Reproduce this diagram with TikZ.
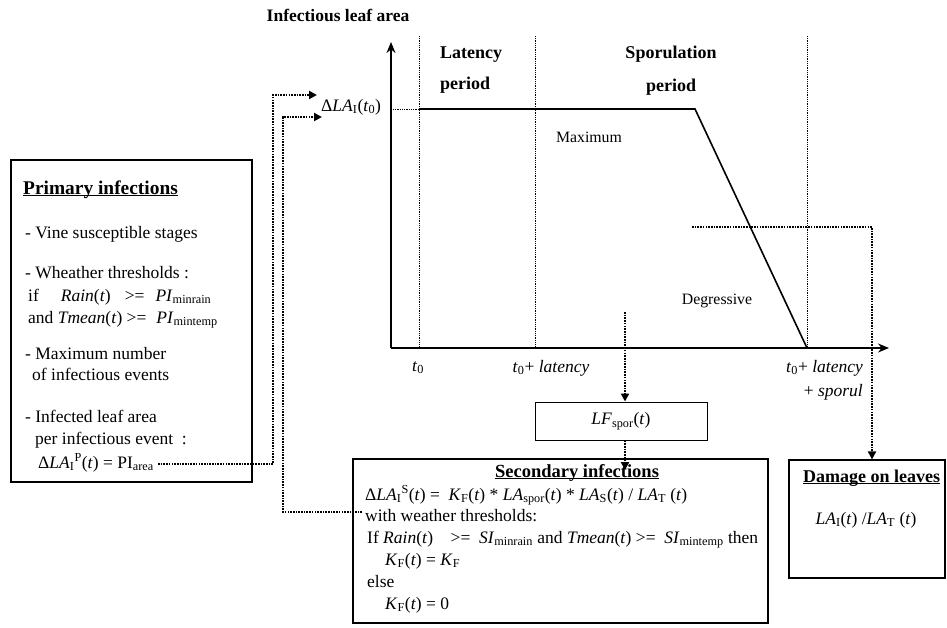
\documentclass[tikz,border=0pt]{standalone}
\usepackage{fontspec}
\setmainfont{Liberation Serif}
\usetikzlibrary{arrows.meta}
\newcommand{\sbs}[1]{\textsubscript{#1}}
\newcommand{\sps}[1]{\textsuperscript{#1}}
\newcommand{\ita}[1]{\textit{#1}}
\newcommand{\myul}[1]{\setbox0\hbox{#1}\rlap{\rule[-2.2pt]{\wd0}{1.1pt}}\box0}
\begin{document}
\begin{tikzpicture}[x=1pt,y=-1pt,
  txt/.style={inner sep=0pt, anchor=base west, font=\fontsize{17.5}{20}\selectfont},
  ctxt/.style={inner sep=0pt, anchor=base, font=\fontsize{17.5}{20}\selectfont},
  btitle/.style={inner sep=0pt, font=\bfseries\fontsize{18.5}{21}\selectfont},
  ctitle/.style={inner sep=0pt, font=\bfseries\fontsize{18}{21}\selectfont},
  small/.style={inner sep=0pt, anchor=base, font=\fontsize{15.8}{18}\selectfont},
  boxnode/.style={draw, line width=1.2pt, inner sep=0pt},
  thickdot/.style={line width=2.4pt, dash pattern=on 1.6pt off 1.1pt},
  thindot/.style={line width=0.6pt, dash pattern=on 0.9pt off 0.9pt},
  tip/.style={-{Triangle[length=8pt,width=8pt]}},
  axis/.style={line width=1.6pt, -{Stealth[length=11pt,width=9pt]}},
  curve/.style={line width=1.6pt, line join=miter}]
\useasboundingbox (0,0) rectangle (947,627);

% chart
\coordinate (o) at (391,348);
\coordinate (ytop) at (391,42);
\coordinate (xend) at (889,348);
\foreach \n/\x in {va/419,vb/535,vc/807}{
  \coordinate (\n top) at (\x,36);
  \coordinate (\n bot) at (\x,348);
  \draw[thindot] (\n top) -- (\n bot);
}
\coordinate (lev0) at (393,109);
\coordinate (lev1) at (419,109);
\coordinate (lev2) at (695,109);
\draw[thindot] (lev0) -- (lev1);
\draw[curve] (lev1) -- (lev2) -- (vcbot);
\draw[axis] (o) -- (ytop);
\draw[axis] (o) -- (xend);

\node[inner sep=0pt, font=\bfseries\fontsize{17.5}{20}\selectfont, anchor=base] (ttl) at (338,21) {Infectious leaf area};
\node[ctitle, anchor=base west] (lat1) at (440,58) {Latency};
\node[ctitle, anchor=base west] (lat2) at (440,89) {period};
\node[ctitle, anchor=base] (spo1) at (671,58) {Sporulation};
\node[ctitle, anchor=base] (spo2) at (671,91) {period};
\node[small] (maxl) at (589,142) {Maximum};
\node[small] (degl) at (717,304) {Degressive};
\node[ctxt] (t0l) at (418,371) {\ita{t}\sbs{0}};
\node[ctxt] (t1l) at (551,372) {\ita{t}\sbs{0}+ \ita{latency}};
\node[txt, anchor=base east] (t2l) at (863,372) {\ita{t}\sbs{0}+ \ita{latency}};
\node[txt, anchor=base east] (t3l) at (863,396) {+ \ita{sporul}};
\node[txt] (dla) at (321,111) {Δ\ita{LA}\sbs{I}(\ita{t}\sbs{0})};

% primary infections box
\node[boxnode, minimum width=241, minimum height=322] (prim) at (131.5,321) {};
\node[btitle, font=\bfseries\fontsize{19.4}{22}\selectfont, anchor=base west] (ptitle) at (23,194) {\myul{Primary infections}};
\node[txt] (p1) at (25,238) {- Vine susceptible stages};
\node[txt] (p2) at (25,278) {- Wheather thresholds :};
\node[txt] (p3) at (28,301) {if\hspace{22pt}\ita{Rain}(\ita{t})\hspace{14pt}>=\hspace{11pt}\ita{PI}\sbs{minrain}};
\node[txt] (p4) at (28,323) {and \ita{Tmean}(\ita{t}) >=\hspace{10pt}\ita{PI}\sbs{mintemp}};
\node[txt] (p5) at (25,359) {- Maximum number};
\node[txt] (p6) at (32,380) {of infectious events};
\node[txt] (p7) at (25,422) {- Infected leaf area};
\node[txt] (p8) at (35,444) {per infectious event\ \ :};
\node[txt] (p9) at (38,468) {Δ\ita{LA}\sbs{I}\sps{P}(\ita{t}) = PI\sbs{area}};

% LF spor box
\node[boxnode, line width=1pt, minimum width=172, minimum height=38, font=\fontsize{17.5}{20}\selectfont] (lf) at (621,421) {\ita{LF}\sbs{spor}(\ita{t})};

% secondary infections box
\node[boxnode, minimum width=415, minimum height=164] (sec) at (560.5,541) {};
\node[btitle, anchor=base] (stitle) at (577,477) {\myul{Secondary infections}};
\node[txt] (s1) at (365,500) {Δ\ita{LA}\sbs{I}\sps{S}(\ita{t}) =\ \ \ita{K}\sbs{F}(\ita{t}) * \ita{LA}\sbs{spor}(\ita{t}) * \ita{LA}\sbs{S}(\ita{t}) / \ita{LA}\sbs{T} (\ita{t})};
\node[txt] (s2) at (365,521.5) {with weather thresholds:};
\node[txt] (s3) at (367,543) {If \ita{Rain}(\ita{t})\ \ \ \ >=\ \ \ita{SI}\sbs{minrain} and \ita{Tmean}(\ita{t}) >=\ \ \ita{SI}\sbs{mintemp} then};
\node[txt] (s4) at (385,565) {\ita{K}\sbs{F}(\ita{t}) = \ita{K}\sbs{F}};
\node[txt] (s5) at (367,587) {else};
\node[txt] (s6) at (385,609) {\ita{K}\sbs{F}(\ita{t}) = 0};

% damage box
\node[boxnode, minimum width=156, minimum height=118] (dmg) at (867,519) {};
\node[ctitle, anchor=base west] (dtitle) at (803,482) {\myul{Damage on leaves}};
\node[ctxt] (d1) at (866,524) {\ita{LA}\sbs{I}(\ita{t}) /\ita{LA}\sbs{T} (\ita{t})};

% connectors
\coordinate (lfsrc) at (625,312);
\coordinate (secin) at (625,470);
\draw[thickdot, tip] (lfsrc) -- (lfsrc |- lf.north);
\draw[thickdot, tip] (lfsrc |- lf.south) -- (secin);

\coordinate (dsrc) at (692,227);
\coordinate (dcor) at (872,227);
\draw[thickdot, tip] (dsrc) -- (dcor) -- (dcor |- dmg.north);

\coordinate (psrc) at (158,464);
\coordinate (pc1) at (273,464);
\coordinate (pc2) at (273,95);
\coordinate (pdst) at (317,95);
\draw[thickdot, tip] (psrc) -- (pc1) -- (pc2) -- (pdst);

\coordinate (ssrc) at (362,512);
\coordinate (sc1) at (283,512);
\coordinate (sc2) at (283,117);
\coordinate (sdst) at (322,117);
\draw[thickdot, tip] (ssrc) -- (sc1) -- (sc2) -- (sdst);
\end{tikzpicture}
\end{document}
